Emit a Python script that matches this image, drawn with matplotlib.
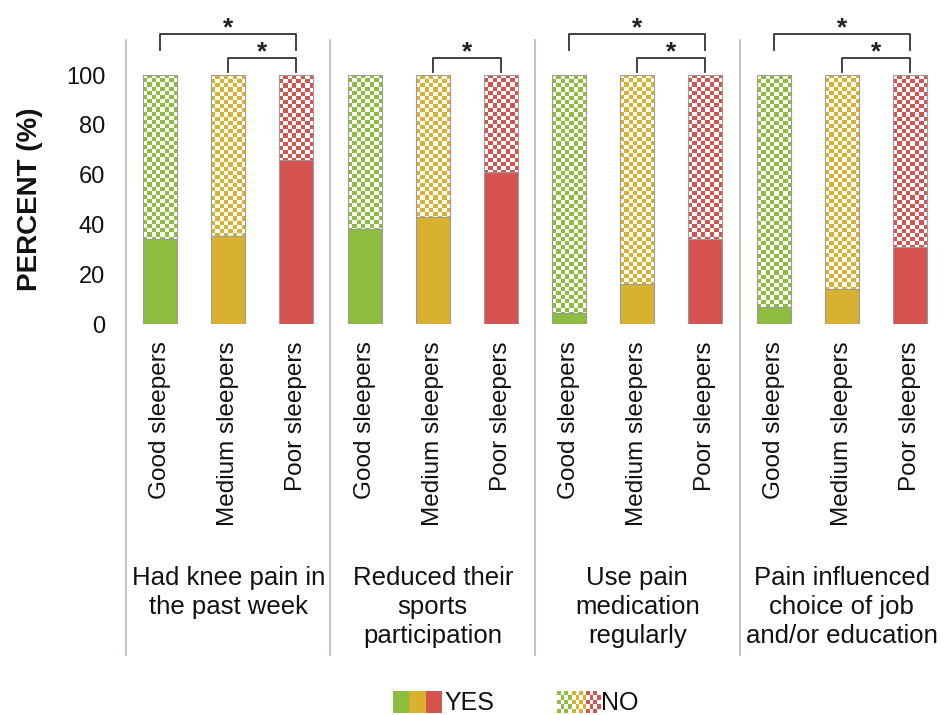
import numpy as np
import matplotlib
matplotlib.use("Agg")
import matplotlib.pyplot as plt
from matplotlib.patches import Rectangle
from matplotlib.colors import to_rgba

plt.rcParams['font.family'] = ['Liberation Sans', 'DejaVu Sans']

groups = ["Had knee pain in\nthe past week",
          "Reduced their\nsports\nparticipation",
          "Use pain\nmedication\nregularly",
          "Pain influenced\nchoice of job\nand/or education"]
sleepers = ["Good sleepers", "Medium sleepers", "Poor sleepers"]
# percent answering YES, per group: good / medium / poor sleepers
yes_pct = [[34, 35.5, 66],
           [38, 43, 61],
           [4.5, 16, 34],
           [7, 14, 31]]
# significant pairs inside each group (indices into sleepers)
sig_pairs = [[(0, 2), (1, 2)],
             [(1, 2)],
             [(0, 2), (1, 2)],
             [(0, 2), (1, 2)]]
yticks = [0, 20, 40, 60, 80, 100]
colors = ['#8cbd3f', '#d8b22e', '#d6544f']

EDGE = '#9a9a9a'
SEP = '#b9aca6'
BAR_W = 0.5


def checker(color, nx, ny):
    img = np.ones((ny, nx, 4))
    mask = (np.add.outer(np.arange(ny), np.arange(nx)) % 2) == 0
    img[mask] = to_rgba(color)
    return img


fig = plt.figure(figsize=(9.44, 7.15), dpi=100)
ax = fig.add_axes([126 / 944, 1 - 324 / 715, 818 / 944, 249 / 715])

for g, vals in enumerate(yes_pct):
    for j, v in enumerate(vals):
        x = g * 3 + j
        # NO part: checkerboard clipped to the upper segment
        rect = Rectangle((x - BAR_W / 2, v), BAR_W, 100 - v,
                         facecolor='none', edgecolor=EDGE, lw=0.8, zorder=3)
        ax.add_patch(rect)
        im = ax.imshow(checker(colors[j], 8, 60), origin='lower',
                       extent=(x - BAR_W / 2, x + BAR_W / 2, 0, 100),
                       aspect='auto', interpolation='nearest', zorder=2)
        im.set_clip_path(rect)
        # YES part
        ax.bar(x, v, width=BAR_W, color=colors[j], edgecolor=EDGE,
               lw=0.8, zorder=3)
        ax.text(x, -7, sleepers[j], rotation=90, ha='center', va='top',
                fontsize=17.5, color='#111111')

    ax.text(g * 3 + 1, -97, groups[g], ha='center', va='top',
            fontsize=18.5, linespacing=1.27, color='#111111')

    # significance brackets
    for a, b in sig_pairs[g]:
        top, low = (116.5, 110) if a == 0 else (106.8, 101.2)
        xa, xb = g * 3 + a, g * 3 + b
        ax.plot([xa, xa, xb, xb], [low, top, top, low], color='#333333',
                lw=1.3, clip_on=False)
        ax.text((xa + xb) / 2, top - 0.6, '*', ha='center', va='baseline',
                fontsize=19, fontweight='bold', color='#222222',
                clip_on=False)

# group separators, running from the brackets down past the labels
for s in [-0.5, 2.5, 5.5, 8.5]:
    ax.plot([s, s], [114, -133], color=SEP, lw=1.1, clip_on=False)

ax.set_xlim(-0.5, 11.5)
ax.set_ylim(0, 100)
ax.set_yticks(yticks)
ax.set_yticklabels([str(t) for t in yticks], fontsize=17, color='#111111')
ax.tick_params(axis='y', length=0, pad=15)
ax.set_xticks([])
for sp in ax.spines.values():
    sp.set_visible(False)

fig.text(30 / 944, 1 - 199 / 715, 'PERCENT (%)', rotation=90, ha='center',
         va='center', fontsize=20, fontweight='bold', color='#111111')

# legend drawn in pixel coordinates
lg = fig.add_axes([0, 0, 1, 1], zorder=5)
lg.patch.set_alpha(0)
lg.axis('off')
for k, c in enumerate(colors):
    lg.add_patch(Rectangle((393 + k * 16.3, 691), 16.3, 22, facecolor=c,
                           edgecolor='none'))
for k, c in enumerate(colors):
    lg.imshow(checker(c, 4, 5), origin='upper',
              extent=(557 + k * 14.5, 557 + (k + 1) * 14.5, 713, 691),
              aspect='auto', interpolation='nearest')
lg.text(444, 703, 'YES', ha='left', va='center', fontsize=18,
        color='#111111')
lg.text(601, 703, 'NO', ha='left', va='center', fontsize=18,
        color='#111111')
lg.set_xlim(0, 944)
lg.set_ylim(715, 0)

fig.savefig('out.png', dpi=100)
